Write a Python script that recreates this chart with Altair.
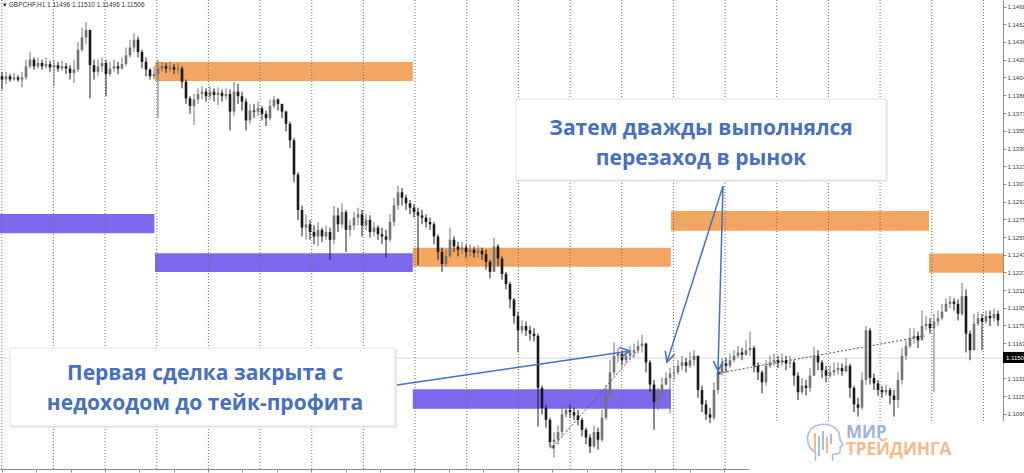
import math
import altair as alt
import pandas as pd

# GBPCHF, H1 candles (oldest first): close / high / low; each open is the previous close
first_open = 1.1405
close = [
    1.1402, 1.1405, 1.1402, 1.1404, 1.1402, 1.1404, 1.1414, 1.1420, 1.1414, 1.1417,
    1.1414, 1.1416, 1.1413, 1.1415, 1.1412, 1.1414, 1.1412, 1.1408, 1.1411, 1.1429,
    1.1440, 1.1447, 1.1415, 1.1409, 1.1414, 1.1417, 1.1407, 1.1412, 1.1414, 1.1412,
    1.1416, 1.1424, 1.1431, 1.1438, 1.1427, 1.1418, 1.1411, 1.1405, 1.1407,
    1.1412, 1.1414, 1.1412, 1.1413, 1.1411, 1.1412, 1.1400, 1.1385, 1.1378, 1.1384,
    1.1389, 1.1391, 1.1387, 1.1391, 1.1388, 1.1390, 1.1387, 1.1389, 1.1373, 1.1391,
    1.1387, 1.1382, 1.1365, 1.1374, 1.1373, 1.1376, 1.1371, 1.1367, 1.1378, 1.1384,
    1.1380, 1.1373, 1.1362, 1.1347, 1.1316, 1.1284, 1.1268, 1.1271, 1.1264, 1.1260,
    1.1266, 1.1260, 1.1264, 1.1257, 1.1279, 1.1271, 1.1282, 1.1266, 1.1270, 1.1277,
    1.1280, 1.1270, 1.1275, 1.1264, 1.1268, 1.1262, 1.1260, 1.1257, 1.1273, 1.1288,
    1.1300, 1.1295, 1.1290, 1.1286,
    1.1282, 1.1279, 1.1277, 1.1273, 1.1271, 1.1260, 1.1246, 1.1235, 1.1242, 1.1257,
    1.1251, 1.1248, 1.1250, 1.1246, 1.1248, 1.1245, 1.1247, 1.1244, 1.1237, 1.1228,
    1.1251, 1.1240, 1.1226, 1.1217, 1.1203, 1.1188, 1.1175, 1.1179, 1.1175, 1.1172,
    1.1170, 1.1123, 1.1105, 1.1094, 1.1074, 1.1076, 1.1083, 1.1099, 1.1103, 1.1101,
    1.1098, 1.1094, 1.1085, 1.1078, 1.1070, 1.1083, 1.1076, 1.1096, 1.1116, 1.1137,
    1.1152, 1.1154, 1.1148, 1.1152, 1.1155, 1.1157, 1.1161, 1.1163, 1.1146, 1.1126,
    1.1110, 1.1117, 1.1126, 1.1132, 1.1136,
    1.1137, 1.1143, 1.1146, 1.1143, 1.1148, 1.1152, 1.1121, 1.1108, 1.1099, 1.1096,
    1.1121, 1.1137, 1.1145, 1.1143, 1.1148, 1.1152, 1.1155, 1.1153, 1.1157, 1.1159,
    1.1143, 1.1137, 1.1128, 1.1143, 1.1146, 1.1148, 1.1146, 1.1148, 1.1145, 1.1146,
    1.1134, 1.1119, 1.1125, 1.1123, 1.1134, 1.1152, 1.1146, 1.1139, 1.1134, 1.1137,
    1.1139, 1.1141, 1.1138, 1.1143, 1.1123, 1.1108, 1.1105, 1.1130, 1.1175, 1.1132,
    1.1127, 1.1121, 1.1119, 1.1121, 1.1116, 1.1112, 1.1130, 1.1152, 1.1161, 1.1168,
    1.1170, 1.1166, 1.1179, 1.1181, 1.1177, 1.1183, 1.1186, 1.1192, 1.1199, 1.1201,
    1.1199, 1.1190, 1.1206, 1.1172, 1.1157, 1.1181, 1.1186, 1.1183, 1.1188, 1.1186,
    1.1190, 1.1184,
]
high = [
    1.1409, 1.1409, 1.1407, 1.1408, 1.1406, 1.1409, 1.1420, 1.1427, 1.1422, 1.1422,
    1.1420, 1.1422, 1.1419, 1.1420, 1.1418, 1.1419, 1.1417, 1.1415, 1.1420, 1.1436,
    1.1449, 1.1454, 1.1445, 1.1420, 1.1420, 1.1422, 1.1420, 1.1418, 1.1420, 1.1418,
    1.1422, 1.1431, 1.1438, 1.1444, 1.1441, 1.1429, 1.1422, 1.1412, 1.1414,
    1.1420, 1.1418, 1.1417, 1.1418, 1.1416, 1.1417, 1.1414, 1.1402, 1.1387, 1.1389,
    1.1394, 1.1396, 1.1394, 1.1396, 1.1394, 1.1395, 1.1393, 1.1394, 1.1393, 1.1400,
    1.1398, 1.1391, 1.1385, 1.1380, 1.1380, 1.1382, 1.1378, 1.1374, 1.1384, 1.1387,
    1.1385, 1.1380, 1.1374, 1.1364, 1.1349, 1.1318, 1.1288, 1.1280, 1.1275, 1.1270,
    1.1273, 1.1268, 1.1270, 1.1268, 1.1288, 1.1286, 1.1290, 1.1284, 1.1275, 1.1282,
    1.1286, 1.1284, 1.1280, 1.1279, 1.1273, 1.1270, 1.1268, 1.1266, 1.1280, 1.1295,
    1.1306, 1.1304, 1.1298, 1.1293,
    1.1289, 1.1286, 1.1284, 1.1280, 1.1277, 1.1273, 1.1262, 1.1250, 1.1248, 1.1268,
    1.1260, 1.1255, 1.1255, 1.1253, 1.1253, 1.1251, 1.1252, 1.1250, 1.1248, 1.1239,
    1.1259, 1.1253, 1.1242, 1.1228, 1.1219, 1.1204, 1.1192, 1.1184, 1.1183, 1.1179,
    1.1177, 1.1172, 1.1125, 1.1108, 1.1096, 1.1083, 1.1089, 1.1107, 1.1108, 1.1108,
    1.1105, 1.1103, 1.1096, 1.1087, 1.1081, 1.1089, 1.1087, 1.1103, 1.1125, 1.1148,
    1.1164, 1.1159, 1.1157, 1.1157, 1.1161, 1.1163, 1.1166, 1.1171, 1.1164, 1.1148,
    1.1130, 1.1123, 1.1132, 1.1137, 1.1141,
    1.1143, 1.1148, 1.1152, 1.1150, 1.1155, 1.1157, 1.1152, 1.1125, 1.1112, 1.1105,
    1.1128, 1.1143, 1.1150, 1.1150, 1.1154, 1.1157, 1.1161, 1.1159, 1.1166, 1.1174,
    1.1161, 1.1146, 1.1139, 1.1148, 1.1152, 1.1154, 1.1152, 1.1154, 1.1152, 1.1152,
    1.1148, 1.1137, 1.1132, 1.1130, 1.1141, 1.1160, 1.1157, 1.1148, 1.1143, 1.1143,
    1.1146, 1.1146, 1.1145, 1.1150, 1.1145, 1.1125, 1.1114, 1.1137, 1.1179, 1.1177,
    1.1136, 1.1130, 1.1125, 1.1126, 1.1123, 1.1121, 1.1137, 1.1159, 1.1166, 1.1177,
    1.1177, 1.1174, 1.1193, 1.1188, 1.1186, 1.1190, 1.1193, 1.1199, 1.1204, 1.1206,
    1.1204, 1.1203, 1.1218, 1.1212, 1.1175, 1.1190, 1.1192, 1.1190, 1.1193, 1.1193,
    1.1195, 1.1193,
]
low = [
    1.1393, 1.1398, 1.1400, 1.1401, 1.1400, 1.1395, 1.1402, 1.1412, 1.1411, 1.1412,
    1.1411, 1.1412, 1.1409, 1.1396, 1.1409, 1.1410, 1.1407, 1.1402, 1.1399, 1.1409,
    1.1427, 1.1434, 1.1385, 1.1402, 1.1405, 1.1409, 1.1387, 1.1405, 1.1409, 1.1407,
    1.1411, 1.1414, 1.1422, 1.1427, 1.1422, 1.1412, 1.1405, 1.1402, 1.1402,
    1.1367, 1.1409, 1.1408, 1.1409, 1.1407, 1.1407, 1.1394, 1.1380, 1.1371, 1.1361,
    1.1380, 1.1384, 1.1382, 1.1384, 1.1382, 1.1379, 1.1382, 1.1384, 1.1356, 1.1369,
    1.1380, 1.1374, 1.1356, 1.1362, 1.1367, 1.1369, 1.1365, 1.1360, 1.1365, 1.1376,
    1.1374, 1.1367, 1.1355, 1.1340, 1.1309, 1.1275, 1.1260, 1.1257, 1.1257, 1.1253,
    1.1251, 1.1255, 1.1257, 1.1239, 1.1253, 1.1264, 1.1268, 1.1246, 1.1260, 1.1266,
    1.1270, 1.1260, 1.1266, 1.1259, 1.1260, 1.1257, 1.1253, 1.1241, 1.1255, 1.1269,
    1.1284, 1.1288, 1.1284, 1.1280,
    1.1277, 1.1234, 1.1271, 1.1268, 1.1266, 1.1253, 1.1239, 1.1228, 1.1233, 1.1241,
    1.1246, 1.1242, 1.1244, 1.1241, 1.1242, 1.1241, 1.1241, 1.1239, 1.1230, 1.1222,
    1.1228, 1.1233, 1.1221, 1.1212, 1.1195, 1.1181, 1.1155, 1.1172, 1.1170, 1.1166,
    1.1165, 1.1088, 1.1099, 1.1087, 1.1069, 1.1060, 1.1072, 1.1079, 1.1096, 1.1096,
    1.1094, 1.1089, 1.1079, 1.1072, 1.1064, 1.1069, 1.1067, 1.1074, 1.1094, 1.1114,
    1.1134, 1.1146, 1.1143, 1.1145, 1.1148, 1.1150, 1.1154, 1.1155, 1.1137, 1.1119,
    1.1085, 1.1103, 1.1119, 1.1125, 1.1100,
    1.1130, 1.1135, 1.1139, 1.1137, 1.1141, 1.1143, 1.1114, 1.1101, 1.1094, 1.1091,
    1.1094, 1.1117, 1.1134, 1.1137, 1.1141, 1.1146, 1.1150, 1.1148, 1.1152, 1.1152,
    1.1137, 1.1130, 1.1118, 1.1125, 1.1141, 1.1143, 1.1141, 1.1143, 1.1139, 1.1141,
    1.1125, 1.1112, 1.1117, 1.1116, 1.1119, 1.1134, 1.1139, 1.1132, 1.1128, 1.1132,
    1.1134, 1.1135, 1.1134, 1.1137, 1.1114, 1.1101, 1.1097, 1.1103, 1.1126, 1.1126,
    1.1121, 1.1116, 1.1114, 1.1116, 1.1108, 1.1097, 1.1105, 1.1126, 1.1148, 1.1159,
    1.1163, 1.1159, 1.1172, 1.1175, 1.1172, 1.1119, 1.1179, 1.1184, 1.1192, 1.1195,
    1.1193, 1.1184, 1.1188, 1.1155, 1.1148, 1.1166, 1.1179, 1.1157, 1.1181, 1.1179,
    1.1183, 1.1179,
]

# Supply (orange) and demand (purple) zones: bar-index span and price band
zone_kind = ["supply", "supply", "supply", "supply", "demand", "demand", "demand"]
zone_t0 = [38.75, 103.2, 167.75, 232.25, 0.0, 38.75, 103.2]
zone_t1 = [103.2, 167.7, 232.25, 250.75, 38.6, 103.2, 167.7]
zone_top = [1.14179, 1.12498, 1.12830, 1.12446, 1.12803, 1.12448, 1.11217]
zone_bot = [1.14007, 1.12326, 1.12652, 1.12272, 1.12629, 1.12278, 1.11041]

# Dotted trend lines between swing points (bar index, price)
trend_t0 = [138.25, 179.75]
trend_p0 = [1.10695, 1.11364]
trend_t1 = [159.5, 231.25]
trend_p1 = [1.11573, 1.11699]

# Callout arrows (bar index, price)
arrow_t0 = [99.25, 180.75, 180.75]
arrow_p0 = [1.11256, 1.13057, 1.13057]
arrow_t1 = [157.5, 166.75, 179.5]
arrow_p1 = [1.11563, 1.11464, 1.11382]

price_ticks = [1.14680, 1.14520, 1.14360, 1.14200, 1.14040, 1.13880, 1.13715, 1.13555,
               1.13395, 1.13235, 1.13075, 1.12915, 1.12755, 1.12595, 1.12435, 1.12275,
               1.12115, 1.11955, 1.11795, 1.11635, 1.11475, 1.11315, 1.11155, 1.10995]
last_price = 1.11500
header = "\u25be GBPCHF,H1  1.11496 1.11510 1.11496 1.11506"

# ---------------------------------------------------------------- layout
W, H = 1003, 469
T_MAX = 250.75
P_LO, P_HI = 1.104955, 1.1474
PX_T = W / T_MAX
PX_P = H / (P_HI - P_LO)

xs = alt.Scale(domain=[0, T_MAX], nice=False, zero=False, padding=0)
ys = alt.Scale(domain=[P_LO, P_HI], nice=False, zero=False, padding=0)
x_axis = alt.Axis(values=[0.425 + 8.6 * k for k in range(30)], labels=False, tickSize=3,
                  tickColor="#8c8c8c", domainColor="#8c8c8c", grid=False, title=None)
y_axis = alt.Axis(orient="right", values=price_ticks, format=".5f", labelFont="Liberation Sans",
                  labelFontSize=6, labelColor="#3a3a3a", tickSize=3, tickColor="#8c8c8c",
                  domainColor="#8c8c8c", grid=False, title=None, labelPadding=1,
                  labelOverlap=False)


def X(f):
    return alt.X(f, type="quantitative", scale=xs, axis=x_axis)


def Y(f):
    return alt.Y(f, type="quantitative", scale=ys, axis=y_axis)


n = min(len(close), len(high), len(low))
opens = [first_open] + close[: n - 1]
rows = []
for i in range(n):
    o, c = opens[i], close[i]
    rows.append(dict(t=i + 0.5, o=o, c=c, h=max(high[i], o, c), l=min(low[i], o, c),
                     dir="up" if c >= o else "down"))
candles = pd.DataFrame(rows)

zones = pd.DataFrame(dict(kind=zone_kind, t0=zone_t0, t1=zone_t1, top=zone_top, bot=zone_bot))
grid = pd.DataFrame(dict(t=[0.425 + 12.9175 * k for k in range(20)]))
trends = pd.DataFrame(dict(t0=trend_t0, p0=trend_p0, t1=trend_t1, p1=trend_p1))

ang = []
for a0, b0, a1, b1 in zip(arrow_t0, arrow_p0, arrow_t1, arrow_p1):
    dx = (a1 - a0) * PX_T
    dy = -(b1 - b0) * PX_P
    ang.append(math.degrees(math.atan2(dx, -dy)) % 360)
arrows = pd.DataFrame(dict(t0=arrow_t0, p0=arrow_p0, t1=arrow_t1, p1=arrow_p1, ang=ang))

one = pd.DataFrame(dict(p=[last_price]))

price_line = alt.Chart(one).mark_rule(color="#d6d6d6", strokeWidth=1).encode(
    y=Y("p"), x=alt.value(0), x2=alt.value(W))

zone_layer = alt.Chart(zones).mark_rect().encode(
    x=X("t0"), x2="t1", y=Y("top"), y2="bot",
    color=alt.Color("kind:N", scale=alt.Scale(domain=["supply", "demand"],
                                              range=["#F3A562", "#7B68EC"]), legend=None))

grid_layer = alt.Chart(grid).mark_rule(color="#6e6e6e", strokeWidth=1, strokeDash=[1, 2]).encode(
    x=X("t"), y=alt.value(0), y2=alt.value(H))

trend_layer = alt.Chart(trends).mark_rule(color="#4b4b8c", strokeWidth=1, strokeDash=[2, 2]).encode(
    x=X("t0"), y=Y("p0"), x2="t1", y2="p1")

cscale = alt.Scale(domain=["up", "down"], range=["#747474", "#1a1a1a"])
wicks = alt.Chart(candles).mark_rule(strokeWidth=1).encode(
    x=X("t"), y=Y("l"), y2="h", color=alt.Color("dir:N", scale=cscale, legend=None))
bodies = alt.Chart(candles).mark_bar(size=2.6).encode(
    x=X("t"), y=Y("o"), y2="c", color=alt.Color("dir:N", scale=cscale, legend=None))

swing_marks = alt.Chart(trends).mark_point(shape="square", size=10, filled=True,
                                           color="#1f2a9c").encode(x=X("t0"), y=Y("p0"))

# callout boxes
box_df = pd.DataFrame(dict(x0=[10, 516], x1=[395, 886], y0=[348, 99], y1=[426, 180]))
box_shadow = alt.Chart(box_df).mark_rect(color="#dcdcdc", opacity=0.6).encode(
    x=alt.X("x0:Q", scale=None), x2="x1", y=alt.Y("y0:Q", scale=None), y2="y1")
box_shadow = box_shadow.transform_calculate(x0="datum.x0 + 1", x1="datum.x1 + 2",
                                            y0="datum.y0 + 1", y1="datum.y1 + 2")
box_fill = alt.Chart(box_df).mark_rect(color="white", stroke="#e2e2e2", strokeWidth=1).encode(
    x=alt.X("x0:Q", scale=None), x2="x1", y=alt.Y("y0:Q", scale=None), y2="y1")

callout_text = pd.DataFrame(dict(
    text=["Первая сделка закрыта с", "недоходом до тейк-профита",
          "Затем дважды выполнялся", "перезаход в рынок"],
    cx=[205, 205, 701, 701], cy=[374, 404, 129, 159]))
callouts = alt.Chart(callout_text).mark_text(
    font="Open Sans", fontWeight="bold", fontSize=21, color="#4770BE", align="center",
    baseline="middle").encode(x=alt.X("cx:Q", scale=None), y=alt.Y("cy:Q", scale=None), text="text:N")

arrow_lines = alt.Chart(arrows).mark_rule(color="#4472C4", strokeWidth=1.5).encode(
    x=X("t0"), y=Y("p0"), x2="t1", y2="p1")
arrow_heads = alt.Chart(arrows).mark_point(
    shape="M -0.5 1 L 0 0 L 0.5 1", filled=False, size=400, color="#4472C4",
    strokeWidth=1.6, opacity=1).encode(x=X("t1"), y=Y("p1"), angle=alt.Angle("ang:Q", scale=None))

# last-price tag on the price scale
price_tag = alt.Chart(one).mark_rect(color="black").encode(
    y=alt.Y("lo:Q", scale=ys, axis=y_axis), y2="hi", x=alt.value(W), x2=alt.value(W + 21)
).transform_calculate(lo="datum.p - 0.00045", hi="datum.p + 0.00055")
price_tag_text = alt.Chart(one).mark_text(
    font="Liberation Sans", fontSize=6, color="white", align="left", baseline="middle").encode(
    y=Y("p"), x=alt.value(W + 3), text=alt.Text("p:Q", format=".5f"))

header_text = alt.Chart(one).mark_text(
    font="Liberation Sans", fontSize=6.5, color="#333333", align="left", baseline="middle").encode(
    x=alt.value(3), y=alt.value(4.5), text=alt.value(header))

# brand block in the lower right corner
cover = alt.Chart(one).mark_rect(color="white").encode(
    x=alt.value(749), x2=alt.value(1024), y=alt.value(421), y2=alt.value(473))
head = alt.Chart(one).mark_point(
    shape=("M -0.45 1 L -0.45 0.55 C -0.95 0.25 -1 -0.4 -0.6 -0.75 C -0.2 -1.05 0.55 -1 0.8 -0.45 "
           "L 0.85 -0.1 L 1 0.15 L 0.85 0.25 L 0.85 0.5 C 0.85 0.65 0.6 0.65 0.45 0.65 L 0.45 1"),
    filled=False, size=1444, color="#A8BDE6", strokeWidth=1.6, opacity=1).encode(
    x=alt.value(824), y=alt.value(442))
logo_bars = pd.DataFrame(dict(px=[815, 819, 823, 827, 831], top=[433, 436, 431, 437, 434],
                              bot=[453, 456, 450, 453, 444],
                              col=["#F7B98C", "#A8BDE6", "#A8BDE6", "#F7B98C", "#A8BDE6"]))
logo_marks = alt.Chart(logo_bars).mark_rule(strokeWidth=2).encode(
    x=alt.X("px:Q", scale=None), y=alt.Y("top:Q", scale=None), y2="bot",
    color=alt.Color("col:N", scale=None))
logo_words = pd.DataFrame(dict(text=["МИР", "ТРЕЙДИНГА"], lx=[846, 846], ly=[433, 450],
                               col=["#9DB4E2", "#F7B98C"]))
logo_text = alt.Chart(logo_words).mark_text(
    font="Open Sans", fontWeight="bold", fontSize=17, align="left", baseline="middle").encode(
    x=alt.X("lx:Q", scale=None), y=alt.Y("ly:Q", scale=None), text="text:N",
    color=alt.Color("col:N", scale=None))

chart = alt.layer(
    price_line, zone_layer, grid_layer, trend_layer, wicks, bodies, swing_marks,
    box_shadow, box_fill, callouts, arrow_lines, arrow_heads,
    price_tag, price_tag_text, header_text, cover, head, logo_marks, logo_text,
).resolve_scale(color="independent").properties(
    width=W, height=H, autosize="none", background="white",
    padding={"left": 0, "top": 0, "right": 21, "bottom": 4},
).configure_view(stroke=None)

chart.save("out.html", embed_options={"renderer": "svg", "actions": False})
